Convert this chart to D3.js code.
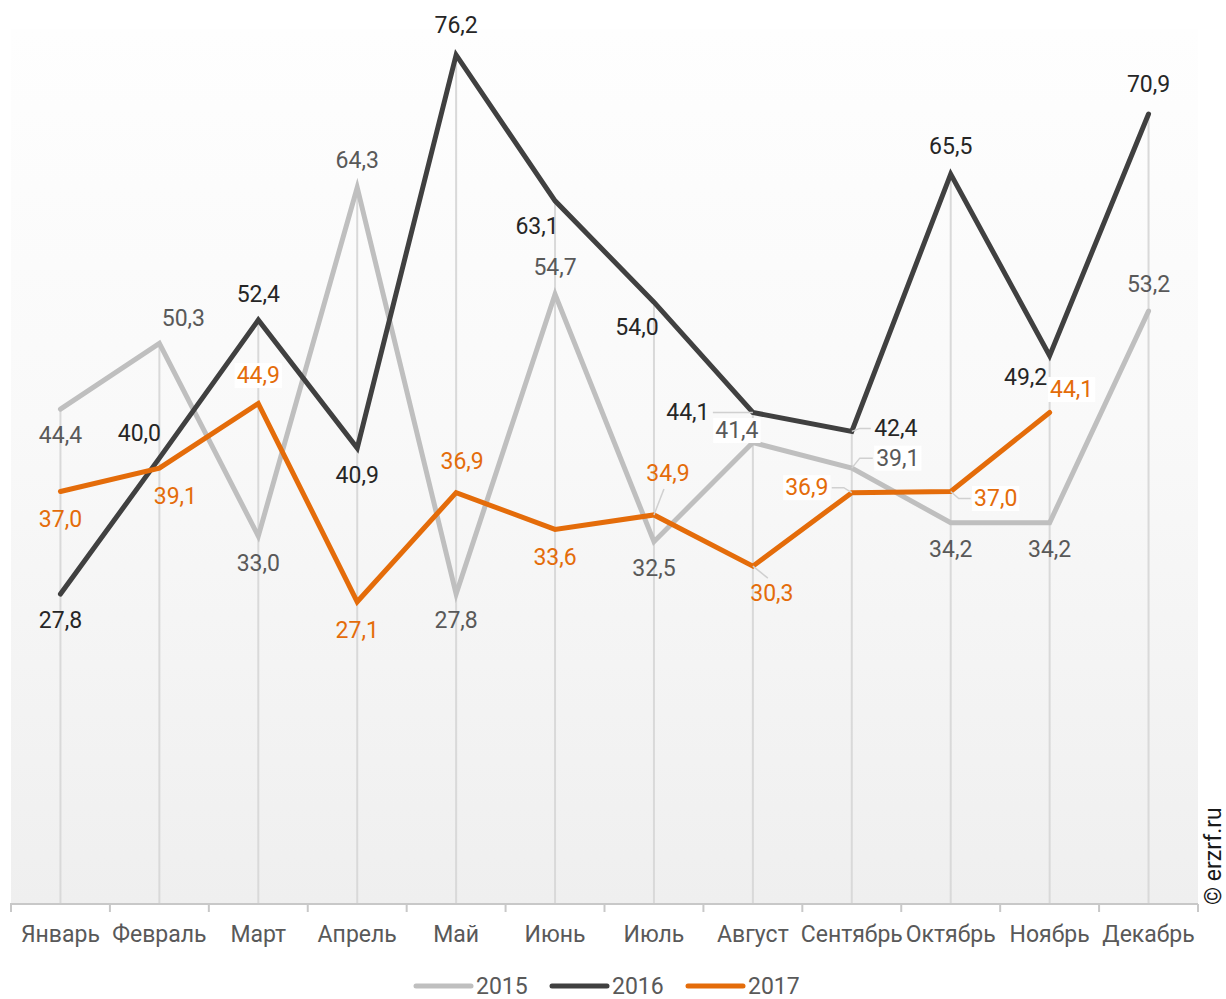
<!DOCTYPE html>
<html>
<head>
<meta charset="utf-8">
<script src="https://cdn.jsdelivr.net/npm/d3@7"></script>
<style>
  html, body { margin: 0; padding: 0; background: #ffffff; }
  svg { display: block; font-family: Roboto, "Noto Sans", sans-serif; }
</style>
</head>
<body>
<svg id="chart" width="1226" height="999"></svg>
<script>
// Months on the category axis
const months = ["Январь", "Февраль", "Март", "Апрель", "Май", "Июнь", "Июль", "Август", "Сентябрь", "Октябрь", "Ноябрь", "Декабрь"];

// Monthly values per year
const values2015 = [44.4, 50.3, 33.0, 64.3, 27.8, 54.7, 32.5, 41.4, 39.1, 34.2, 34.2, 53.2];
const values2016 = [27.8, 40.0, 52.4, 40.9, 76.2, 63.1, 54.0, 44.1, 42.4, 65.5, 49.2, 70.9];
const values2017 = [37.0, 39.1, 44.9, 27.1, 36.9, 33.6, 34.9, 30.3, 36.9, 37.0, 44.1];

const seriesNames = ["2015", "2016", "2017"];

// Label placement relative to each point: [dx, dy, leader, whiteBox]
const labelPlace2015 = [[0, 26], [24, -25], [0, 27], [0, -27], [0, 27], [0, -27], [0, 27],
  [-16, -12, 0, 1], [46, -10, 1, 1], [0, 27], [0, 27], [0, -27]];
const labelPlace2016 = [[0, 27], [-20, -25], [0, -26], [0, 27], [0, -29], [-18, 26], [-17, 25],
  [-65, 0, 1, 0], [44, -3, 1, 0], [0, -28], [-24, 22], [0, -29]];
const labelPlace2017 = [[0, 28], [16, 28], [0, -28, 0, 1], [0, 29], [6, -31], [0, 28],
  [14, -41, 1, 0], [19, 27, 1, 0], [-45, -5, 1, 1], [45, 7, 1, 1], [22, -23, 0, 1]];

const FONT = 23;

const svg = d3.select("#chart");

const plot = { left: 11, right: 1198, top: 29, bottom: 904 };

const x = d3.scaleBand().domain(months).range([plot.left, plot.right]).paddingInner(0).paddingOuter(0);
const y = d3.scaleLinear().domain([0, 80]).range([903.6, 903.6 - 80 * 11.137]);
const cx = m => x(m) + x.bandwidth() / 2;

// Plot area background with a soft vertical gradient
const defs = svg.append("defs");
const grad = defs.append("linearGradient").attr("id", "bg").attr("x1", 0).attr("y1", 0).attr("x2", 0).attr("y2", 1);
grad.append("stop").attr("offset", "0%").attr("stop-color", "#fefefe");
grad.append("stop").attr("offset", "45%").attr("stop-color", "#f9f9f9");
grad.append("stop").attr("offset", "100%").attr("stop-color", "#efefef");

svg.append("rect")
  .attr("x", plot.left).attr("y", plot.top)
  .attr("width", plot.right - plot.left).attr("height", plot.bottom - plot.top)
  .attr("fill", "url(#bg)");

const series = [
  { name: seriesNames[0], values: values2015, place: labelPlace2015, color: "#bfbfbf", text: "#595959" },
  { name: seriesNames[1], values: values2016, place: labelPlace2016, color: "#404040", text: "#262626" },
  { name: seriesNames[2], values: values2017, place: labelPlace2017, color: "#e46c0a", text: "#e46c0a" }
];

// Drop lines from the highest value of each month down to the axis
const maxPerMonth = months.map((m, i) => d3.max(series, s => s.values[i] === undefined ? -Infinity : s.values[i]));
svg.append("g").selectAll("line").data(months).join("line")
  .attr("x1", d => cx(d)).attr("x2", d => cx(d))
  .attr("y1", (d, i) => y(maxPerMonth[i])).attr("y2", y(0))
  .attr("stroke", "#d9d9d9").attr("stroke-width", 2);

// Category axis
const axisG = svg.append("g");
axisG.append("line")
  .attr("x1", plot.left - 1).attr("x2", plot.right)
  .attr("y1", plot.bottom).attr("y2", plot.bottom)
  .attr("stroke", "#c8c8c8").attr("stroke-width", 2);
const tickPos = months.map(m => x(m)).concat([plot.right]);
axisG.selectAll("line.tick").data(tickPos).join("line").attr("class", "tick")
  .attr("x1", d => d).attr("x2", d => d)
  .attr("y1", plot.bottom).attr("y2", plot.bottom + 8)
  .attr("stroke", "#c8c8c8").attr("stroke-width", 2);
axisG.selectAll("text").data(months).join("text")
  .attr("x", d => cx(d)).attr("y", 942)
  .attr("text-anchor", "middle")
  .attr("font-size", FONT).attr("fill", "#595959")
  .text(d => d);

// Series lines
const line = d3.line().x((d, i) => cx(months[i])).y(d => y(d));
svg.append("g").selectAll("path").data(series).join("path")
  .attr("d", s => line(s.values))
  .attr("fill", "none")
  .attr("stroke", s => s.color)
  .attr("stroke-width", 5)
  .attr("stroke-linecap", "round")
  .attr("stroke-linejoin", "miter");

// Data labels
const fmt = v => v.toFixed(1).replace(".", ",");
const labelsG = svg.append("g");
series.forEach(s => {
  s.values.forEach((v, i) => {
    const [dx, dy, leader, box] = s.place[i];
    const px = cx(months[i]), py = y(v);
    const lx = px + dx, ly = py + dy;
    if (leader) {
      // short leader line from the label toward its point
      const side = Math.abs(dx) > 30;
      const ex = side ? lx - Math.sign(dx) * 25 : lx - 4;
      const ey = side ? ly : (dy > 0 ? ly - 15 : ly + 15);
      const mx = side ? px + Math.sign(dx) * 8 : ex;
      const pts = side ? [[px, py], [mx, ey], [ex, ey]] : [[px, py], [ex, ey]];
      labelsG.append("path")
        .attr("d", d3.line()(pts))
        .attr("fill", "none").attr("stroke", "#d0d0d0").attr("stroke-width", 1.5);
    }
    const t = labelsG.append("text")
      .attr("x", lx).attr("y", ly)
      .attr("text-anchor", "middle")
      .attr("dominant-baseline", "central")
      .attr("font-size", FONT)
      .attr("fill", s.text)
      .text(fmt(v));
    if (box) {
      const bb = t.node().getBBox();
      labelsG.insert("rect", () => t.node())
        .attr("x", bb.x - 2).attr("y", bb.y + 1)
        .attr("width", bb.width + 4).attr("height", bb.height - 2)
        .attr("fill", "#ffffff");
    }
  });
});

// Legend
const legendItems = [
  { name: seriesNames[0], color: "#bfbfbf", x: 416 },
  { name: seriesNames[1], color: "#404040", x: 552 },
  { name: seriesNames[2], color: "#e46c0a", x: 688 }
];
const lg = svg.append("g");
legendItems.forEach(it => {
  lg.append("line")
    .attr("x1", it.x).attr("x2", it.x + 55)
    .attr("y1", 986).attr("y2", 986)
    .attr("stroke", it.color).attr("stroke-width", 5).attr("stroke-linecap", "round");
  lg.append("text")
    .attr("x", it.x + 60).attr("y", 986)
    .attr("dominant-baseline", "central")
    .attr("font-size", FONT).attr("fill", "#595959")
    .text(it.name);
});

// Source note
svg.append("text")
  .attr("transform", "translate(1221,905) rotate(-90)")
  .attr("font-size", FONT).attr("fill", "#1a1a1a")
  .text("© erzrf.ru");
</script>
</body>
</html>
